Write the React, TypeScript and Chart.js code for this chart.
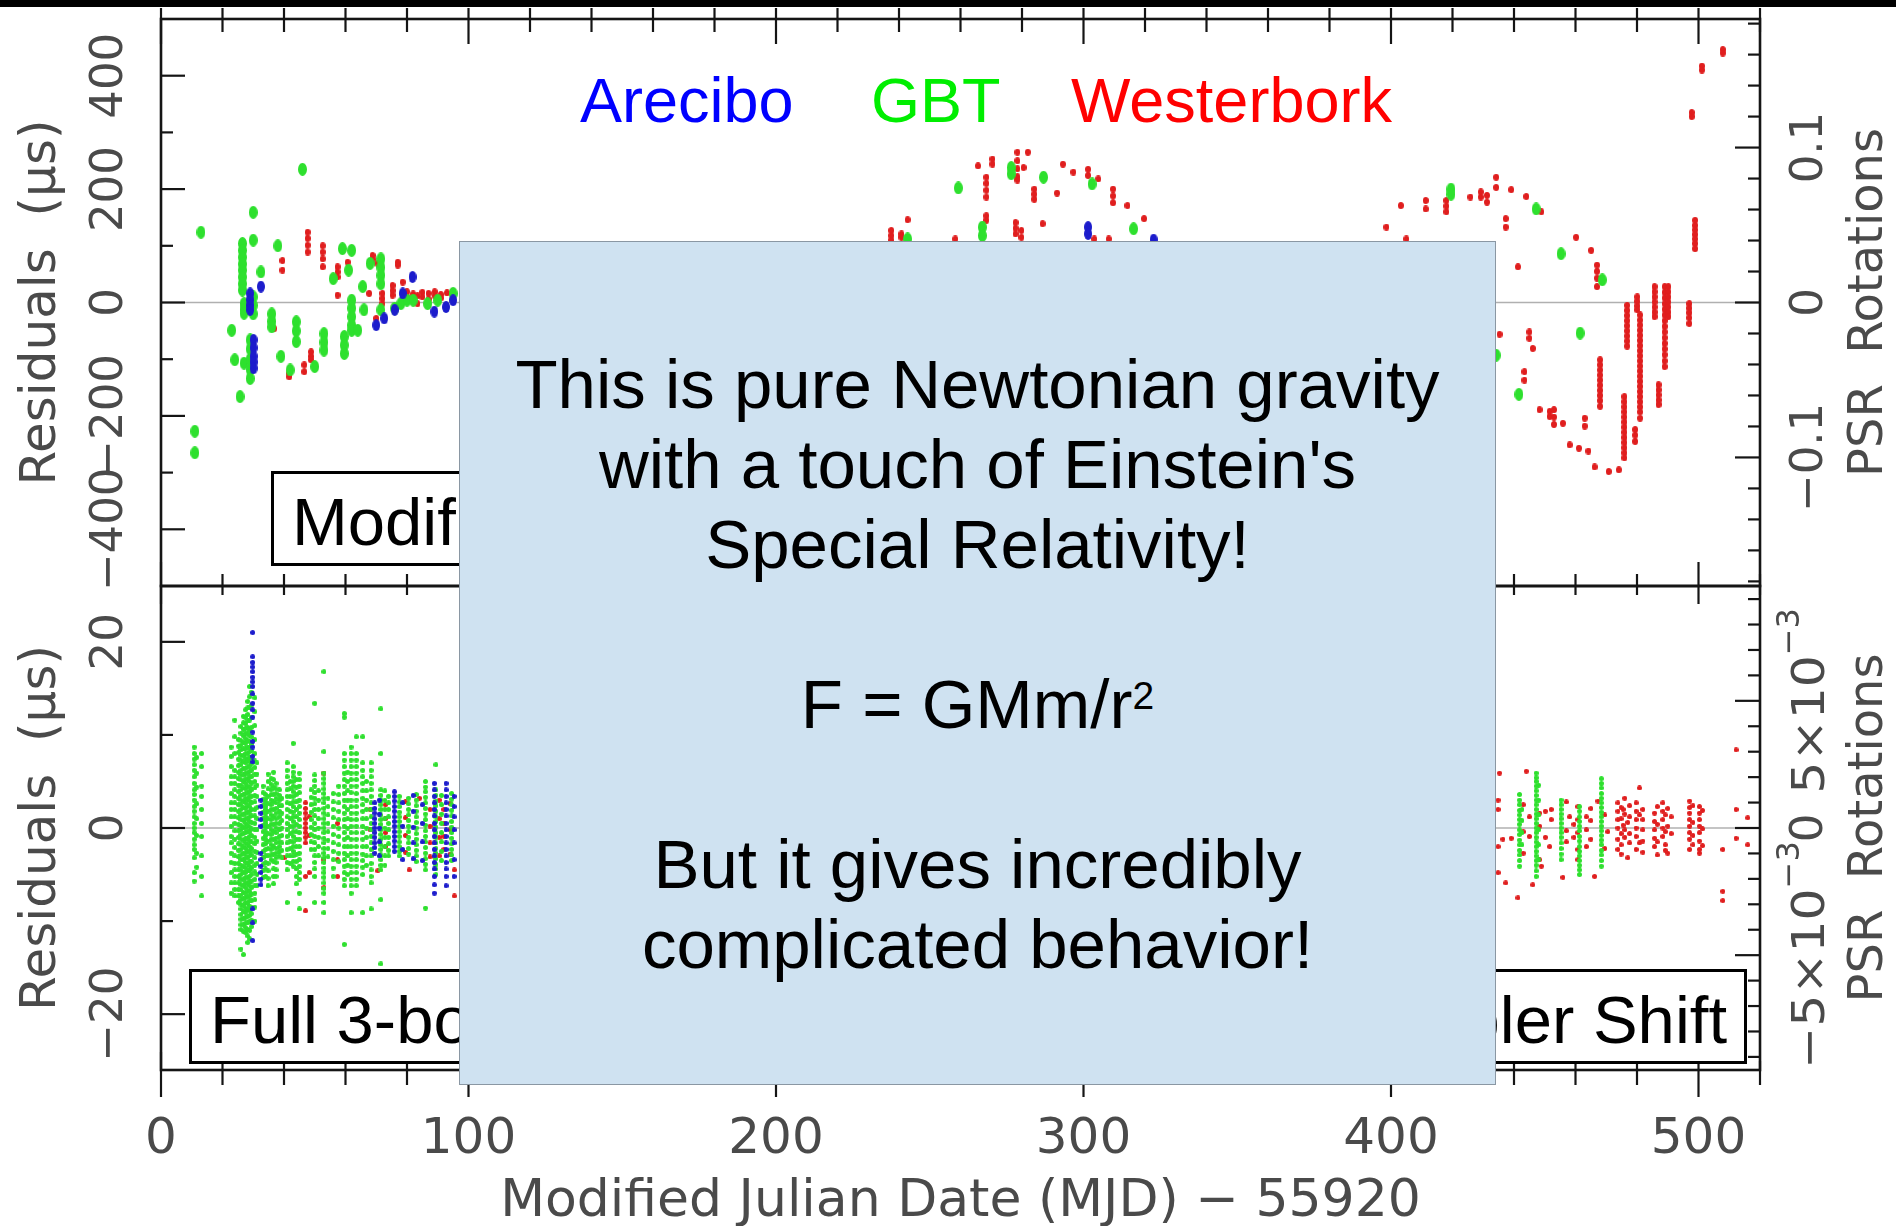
import React, { useEffect, useRef } from 'react';
import { Chart, registerables } from 'chart.js';

Chart.register(...registerables);

// A stripe is one observing day: [day offset, residuals measured that day]
type Stripe = [number, number[]];

// Pulsar spin period in microseconds (converts residuals to rotations)
const PERIOD_US = 2732.6;

// ---- axes -------------------------------------------------------------
const X_TICKS = [0, 20, 40, 60, 80, 100, 120, 140, 160, 180, 200, 220, 240, 260, 280, 300, 320, 340, 360, 380, 400, 420, 440, 460, 480, 500, 520];
const X_LABELS = [0, 100, 200, 300, 400, 500];
const X_TITLE = 'Modified Julian Date (MJD) \u2212 55920';
const Y_TITLE = 'Residuals  (\u00b5s)';
const Y2_TITLE = 'PSR  Rotations';

const TOP_RES_TICKS = [-400, -300, -200, -100, 0, 100, 200, 300, 400];
const TOP_RES_LABELS = [400, 200, 0, -200, -400];
const TOP_ROT_TICKS = [-0.18, -0.16, -0.14, -0.12, -0.1, -0.08, -0.06, -0.04, -0.02, 0, 0.02, 0.04, 0.06, 0.08, 0.1, 0.12, 0.14, 0.16, 0.18];
const TOP_ROT_LABELS: [number, string, string][] = [[0.1, '0.1', ''], [0, '0', ''], [-0.1, '\u22120.1', '']];

const BOT_RES_TICKS = [-20, -10, 0, 10, 20];
const BOT_RES_LABELS = [20, 0, -20];
const BOT_ROT_TICKS = [-0.009, -0.008, -0.007, -0.006, -0.005, -0.004, -0.003, -0.002, -0.001, 0, 0.001, 0.002, 0.003, 0.004, 0.005, 0.006, 0.007, 0.008, 0.009];
const BOT_ROT_LABELS: [number, string, string][] = [[0.005, '5\u00d710', '\u22123'], [0, '0', ''], [-0.005, '\u22125\u00d710', '\u22123']];

// ---- observatories ----------------------------------------------------
const OBSERVATORIES = ['Arecibo', 'GBT', 'Westerbork'];
const LEGEND_COLORS = ['#0000ff', '#00ee00', '#ff0000'];
const MARK_COLORS = ['#1c1ccc', '#2ee02e', '#e01e1e'];

// ---- upper panel: modified Keplerian fit residuals (µs) ---------------
const TOP_ARECIBO: Stripe[] = [
  [29, [16, 5, -5, -13]],
  [30.1, [-66, -80, -95, -105, -116]],
  [32.5, [28]],
  [70, [-40]],
  [72.6, [-28]],
  [76, [-13]],
  [78.6, [16]],
  [81.8, [45]],
  [88.9, [-16]],
  [92.7, [-8]],
  [95, [4]],
  [301.5, [133, 121]],
  [322.8, [111]],
];

const TOP_GBT: Stripe[] = [
  [11, [-227, -265]],
  [13, [124]],
  [23, [-49]],
  [24, [-101]],
  [25.7, [-166]],
  [26.5, [104, 92, 80, 68, 57, 45, 33, 22]],
  [27, [-107, -2, -12, -19]],
  [29, [-66, -82, -100, -118, -134]],
  [30, [159, 110, 10, -5, -20]],
  [32.5, [54]],
  [36, [-20, -33, -43]],
  [38, [100]],
  [39, [-95]],
  [42, [-119]],
  [44, [-34, -50, -69]],
  [46, [235]],
  [50, [-113]],
  [53, [-55, -70, -84]],
  [56, [42]],
  [59, [95]],
  [59.6, [-60, -75, -90]],
  [61, [57]],
  [62, [92, 4, -10, -25, -40, -49]],
  [64, [-49]],
  [65.6, [28]],
  [66, [-13]],
  [68, [69]],
  [71.5, [77, 62, 48, 33, -13]],
  [76, [-10]],
  [78, [-2]],
  [80, [4]],
  [82, [4]],
  [86.7, [-2]],
  [90, [4]],
  [95, [16]],
  [242.8, [112]],
  [259.3, [202]],
  [267.1, [133, 118]],
  [276.5, [238, 227]],
  [287, [221]],
  [302.8, [209]],
  [316.3, [130]],
  [419.5, [200, 191]],
  [434.2, [-93]],
  [441.6, [-162]],
  [447.2, [165]],
  [455.3, [86]],
  [461.5, [-54]],
  [468.7, [40]],
];

const TOP_WESTERBORK: Stripe[] = [
  [36.8, [-46]],
  [39.5, [74, 57]],
  [41.7, [-131, -125]],
  [46.6, [-110, -122]],
  [47.7, [124, 113, 101, 89]],
  [48.8, [-87, -95, -101]],
  [52.6, [100, 89, 77, 63]],
  [57.4, [63, 54, 45, 13]],
  [60.7, [71]],
  [67.7, [16]],
  [68.8, [83, 76]],
  [70, [-28]],
  [70.4, [69]],
  [72, [16, 7, -2]],
  [75.3, [30, 21, 13]],
  [77, [71, 66]],
  [78.6, [36]],
  [80, [19, 10]],
  [82, [15, 8]],
  [83.4, [12, -2]],
  [85, [18, 10]],
  [87, [16, 6]],
  [89, [19, 12]],
  [91, [14, 8]],
  [93, [17]],
  [95, [19, 11]],
  [237.5, [127, 118, 110]],
  [240.8, [121, 115]],
  [242.8, [146]],
  [258.3, [112]],
  [265.7, [241]],
  [268.4, [221, 210, 198, 186, 153, 145]],
  [270.4, [253, 244]],
  [277.9, [141, 131, 121]],
  [278.5, [265, 250, 236, 222, 216]],
  [279.8, [127, 115]],
  [280.5, [238]],
  [281.9, [265]],
  [284, [200, 191, 182]],
  [286.7, [139]],
  [291.4, [193]],
  [293.3, [244]],
  [296.7, [230]],
  [301.5, [235, 224]],
  [303.5, [112]],
  [304.8, [218]],
  [308.2, [112]],
  [309.6, [200, 188, 176]],
  [314.3, [171]],
  [319.7, [148]],
  [398.5, [133]],
  [403.2, [171]],
  [405, [112]],
  [411.3, [180, 165]],
  [418, [180, 170, 160]],
  [425.8, [186]],
  [429.2, [195, 186]],
  [431.2, [189, 177]],
  [434.2, [221, 203]],
  [435.3, [-56]],
  [437.3, [148, 133]],
  [439.1, [199]],
  [441.3, [63]],
  [443.4, [-122, -137]],
  [444, [187]],
  [445, [-52, -63]],
  [446.1, [-81]],
  [448.3, [-189]],
  [448.9, [160]],
  [451.6, [-192, -201]],
  [453, [-189, -202, -215]],
  [455.9, [-213]],
  [458.1, [-251]],
  [460.2, [115]],
  [461.1, [-257]],
  [463, [-204, -218]],
  [464.2, [-262]],
  [465.1, [92]],
  [466.2, [-290]],
  [467, [66, 55, 43, 28]],
  [468, [-101, -110, -119, -128, -137, -146, -155, -164, -173, -183]],
  [470.8, [-298]],
  [474.1, [-295]],
  [475.9, [-166, -175, -184, -193, -202, -211, -220, -229, -238, -247, -256, -265, -274]],
  [476.8, [-5, -14, -23, -32, -41, -50, -59, -68, -77]],
  [479.4, [-224, -234, -245]],
  [480.1, [10, 2, -6, -13]],
  [481, [-22, -31, -40, -49, -58, -67, -76, -85, -94, -103, -112, -121, -130, -139, -148, -157, -166, -175, -184, -193, -204]],
  [485.7, [28, 19, 10, 1, -8, -17, -25]],
  [487, [-145, -154, -163, -172, -180]],
  [489, [28, 18, 8, -2, -12, -22, -32, -42, -52, -62, -72, -82, -92, -103, -113]],
  [490.2, [28, 19, 10, 1, -8, -17, -25]],
  [497, [-2, -10, -18, -27, -37]],
  [497.8, [335, 328]],
  [498.9, [145, 136, 128, 120, 112, 104, 95]],
  [501.1, [417, 410]],
  [507.9, [446, 440]],
];

// ---- lower panel: full three-body fit residuals (µs) ------------------
const BOT_ARECIBO: Stripe[] = [
  [29.8, [21.0, 18.4, 17.8, 17.3, 16.8, 16.2, 15.7, 15.2, 14.4, 13.4, 12.7, 11.9, 10.3, 9.3, 8.7, 7.7, 7.1, -8.7, -10.2, -12.1]],
  [32.5, [3.0, 2.3, 1.6, 0.9, 0.2, -2.7, -3.4, -4.1, -4.8, -5.5, -6.1]],
  [69.5, [2.7, 2.1, 1.6, 1.0, 0.5, 0, -0.5, -1.0, -1.6, -2.1, -2.7]],
  [71, [3.0, 1.5, 0, -1.5, -3.0]],
  [75.9, [3.9, 3.4, 2.9, 2.3, 1.8, 1.2, 0.7, 0.2, -0.4, -0.9, -1.4, -2.0, -2.5]],
  [78.6, [2.7, 0.2, -2.3, -3.4]],
  [82, [3.5, 1.8, 0.1, -1.6, -3.3]],
  [85, [2.5, 0.5, -1.5, -3.5]],
  [88.9, [4.8, 4.1, 3.4, 2.7, 2.0, 1.3, 0.5, -0.2, -0.9, -1.6, -2.3, -3.0, -3.7, -4.4, -5.2, -6.1, -7.0]],
  [92.7, [4.8, 4.1, 3.4, 2.7, 2.0, 1.3, 0.5, -0.2, -0.9, -1.6, -2.3, -3.0, -3.7, -4.4, -5.2, -6.2]],
  [95.3, [3.4, 2.3, 1.2, -0.2, -1.6, -3.4, -5.2]],
];

const BOT_GBT: Stripe[] = [
  [10.8, [8.7, 8.0, 7.4, 6.8, 6.2, 5.5, 4.8, 4.1, 3.6, 3.0, 2.3, 1.8, 1.2, 0.5, 0, -0.5, -1.2, -1.8, -2.3, -3.2, -4.8, -5.7]],
  [11.6, [7.6, 5.9, 4.4, 2.6, 1.0, -0.8, -2.7, -4.2]],
  [13.2, [8.0, 6.6, 4.5, 3.4, 2.0, 0.5, -0.9, -3.0, -5.2, -7.3]],
  [22.8, [8.7, 7.7, 6.6, 5.5, 4.8, 3.7, 2.7, 2.0, 1.2, 0.2, -0.9, -1.6, -2.7, -3.7, -4.8, -5.9, -7.0]],
  [24, [11.6, 9.8, 8.0, 6.2, 5.5, 4.8, 4.1, 3.4, 2.7, 2.0, 1.2, 0.5, -0.3, -1.2, -2.1, -3.0, -3.8, -4.5, -5.2, -5.9, -6.6, -7.3]],
  [25.2, [9.5, 8.8, 8.1, 7.4, 6.7, 6.0, 5.3, 4.6, 3.9, 3.2, 2.5, 1.8, 1.1, 0.4, -0.3, -1.0, -1.7, -2.4, -3.1, -3.8, -4.5, -5.2, -5.9, -6.6, -7.3, -8.0]],
  [26, [10.9, 10.2, 9.4, 8.9, 8.4, 7.8, 7.3, 6.8, 6.2, 5.7, 5.2, 4.6, 4.1, 3.5, 3.0, 2.5, 2.0, 1.4, 0.9, 0.3, -0.2, -0.7, -1.2, -1.8, -2.3, -2.9, -3.4, -4.0, -4.5, -5.0, -5.5, -6.1, -6.6, -7.2, -7.7, -8.2, -8.7, -9.3, -9.8, -10.4, -10.9, -13.0]],
  [26.8, [12.0, 11.3, 10.6, 9.9, 9.2, 8.5, 7.8, 7.1, 6.4, 5.7, 5.0, 4.3, 3.6, 2.9, 2.2, 1.5, 0.8, 0.1, -0.6, -1.3, -2.0, -2.7, -3.4, -4.1, -4.8, -5.5, -6.2, -6.9, -7.6, -8.3, -9.0, -9.7, -10.4, -11.1, -13.6]],
  [27.5, [12.7, 11.9, 11.2, 10.7, 10.2, 9.6, 9.1, 8.5, 8.0, 7.5, 7.0, 6.4, 5.9, 5.3, 4.8, 4.2, 3.7, 3.2, 2.7, 2.1, 1.6, 1.0, 0.5, 0, -0.5, -1.1, -1.6, -2.2, -2.7, -3.2, -3.7, -4.3, -4.8, -5.3, -5.9, -6.4, -7.0, -7.5, -8.0, -8.6, -9.1, -9.6, -10.2, -10.7, -11.2]],
  [28.2, [13.6, 12.9, 12.2, 11.5, 10.8, 10.1, 9.4, 8.7, 8.0, 7.3, 6.6, 5.9, 5.2, 4.5, 3.8, 3.1, 2.4, 1.7, 1.0, 0.3, -0.4, -1.1, -1.8, -2.5, -3.2, -3.9, -4.6, -5.3, -6.0, -6.7, -7.4, -8.1, -8.8, -9.5, -10.2, -10.9, -11.6, -12.3]],
  [28.8, [15.2, 14.1, 13.0, 11.6, 10.5, 9.9, 9.3, 8.7, 8.2, 7.6, 7.1, 6.6, 6.1, 5.5, 5.0, 4.4, 3.9, 3.4, 2.9, 2.3, 1.8, 1.2, 0.7, 0.1, -0.4, -0.9, -1.4, -2.0, -2.5, -3.0, -3.6, -4.1, -4.6, -5.2, -5.7, -6.2, -6.8, -7.3, -7.8, -8.4, -8.9, -9.4, -10.0, -11.0, -11.9]],
  [29.4, [14.6, 13.2, 11.9, 10.8, 9.8, 9.0, 8.3, 7.6, 6.9, 6.2, 5.5, 4.8, 4.1, 3.4, 2.7, 2.0, 1.3, 0.6, -0.1, -0.8, -1.5, -2.2, -2.9, -3.6, -4.3, -5.0, -5.7, -6.4, -7.1, -7.8, -8.5, -9.2, -9.9, -10.6]],
  [30.5, [14.0, 12.5, 11.0, 9.5, 8.0, 7.2, 6.5, 5.8, 5.0, 4.3, 3.5, 2.8, 2.0, 1.3, 0.5, -0.2, -1.0, -1.7, -2.5, -3.2, -4.0, -4.7, -5.5, -6.2, -7.0, -7.7, -8.5, -10.0]],
  [31.2, [7.0, 5.8, 4.6, 3.4, 2.2, 1.0, -0.2, -1.4, -2.6, -3.8, -5.0, -6.2]],
  [33.2, [4.5, 3.8, 3.1, 2.4, 1.7, 1.0, 0.3, -0.4, -1.1, -1.8, -2.5, -3.2, -3.9, -4.6, -5.3]],
  [34, [3.6, 3.1, 2.7, 2.3, 2.0, 1.6, 1.2, 0.8, 0.5, 0.1, -0.4, -0.8, -1.2, -1.7, -2.3, -3.0, -3.7, -4.4, -5.2]],
  [34.8, [5.8, 5.0, 4.2, 3.4, 2.6, 1.8, 1.0, 0.2, -0.6, -1.4, -2.2, -3.0, -3.8, -4.6, -5.4, -6.2]],
  [35.8, [5.3, 4.7, 4.1, 3.6, 3.0, 2.5, 2.0, 1.4, 0.9, 0.4, -0.2, -0.7, -1.2, -1.8, -2.3, -2.9, -3.4]],
  [36.6, [6.0, 5.2, 4.4, 3.6, 2.8, 2.0, 1.2, 0.4, -0.4, -1.2, -2.0, -2.8, -3.6, -4.4, -5.2, -6.0]],
  [37.4, [4.8, 4.2, 3.7, 3.2, 2.7, 2.1, 1.6, 1.0, 0.5, 0, -0.5, -1.1, -1.6, -2.2, -2.7, -3.2, -3.7, -4.5, -5.2]],
  [38.5, [4.1, 3.5, 3.0, 2.4, 1.8, 1.2, 0.5, -0.2, -0.9, -1.5, -2.0, -2.5, -3.0]],
  [39.3, [3.2, 2.4, 1.6, 0.8, 0, -0.8, -1.6, -2.4, -3.2]],
  [41, [7.0, 6.2, 5.5, 4.8, 4.1, 3.4, 2.7, 2.0, 1.2, 0.5, -0.2, -0.9, -1.6, -2.3, -3.0, -3.7, -4.5, -8.0]],
  [42, [5.0, 4.2, 3.4, 2.6, 1.8, 1.0, 0.2, -0.6, -1.4, -2.2, -3.0, -3.8]],
  [43, [9.1, 6.6, 6.0, 5.5, 5.0, 4.5, 3.9, 3.4, 2.8, 2.3, 1.7, 1.2, 0.7, 0.2, -0.4, -0.9, -1.5, -2.0, -2.5, -3.0, -3.6, -4.1]],
  [44, [5.2, 4.4, 3.6, 2.8, 2.0, 1.2, 0.4, -0.4, -1.2, -2.0, -2.8, -3.6, -4.4, -5.2, -6.0]],
  [45, [5.9, 5.2, 4.5, 3.8, 3.0, 2.3, 1.6, 0.9, 0.2, -0.5, -1.2, -2.0, -2.7, -3.4, -4.1, -4.8, -5.5, -7.0, -8.7]],
  [48.8, [4.1, 3.3, 2.5, 1.7, 0.9, 0.1, -0.7, -1.5, -2.3]],
  [50, [13.4, 5.7, 5.1, 4.5, 3.8, 3.2, 2.6, 2.0, 1.3, 0.5, -0.2, -0.9, -1.6, -2.3, -3.0, -3.7, -4.4, -5.2, -8.0]],
  [51.2, [4.0, 3.0, 2.0, 1.0, 0, -1.0, -2.0, -3.0]],
  [53, [16.8, 8.2, 5.9, 5.3, 4.8, 4.2, 3.7, 3.2, 2.7, 2.1, 1.6, 1.0, 0.5, 0, -0.5, -1.1, -1.6, -2.2, -2.7, -3.2, -3.7, -4.3, -4.8, -5.3, -5.9, -6.5, -7.0, -8.0, -9.1]],
  [54.3, [3.2, 2.3, 1.4, 0.5, -0.4, -1.3, -2.2, -3.1]],
  [56, [3.7, 2.8, 2.0, 1.1, 0.2, -0.7, -1.6, -2.5, -3.4, -4.3, -5.2]],
  [57.8, [4.5, 3.6, 2.7, 1.8, 0.9, 0, -0.9, -1.8, -2.7, -3.6]],
  [59.6, [12.3, 11.9, 8.0, 7.3, 6.6, 5.9, 5.2, 4.5, 3.7, 3.0, 2.3, 1.6, 0.9, 0.2, -0.5, -1.2, -2.0, -2.7, -3.4, -4.1, -4.8, -5.5, -6.2, -12.5]],
  [60.7, [6.0, 5.0, 4.0, 3.0, 2.0, 1.0, 0, -1.0, -2.0, -3.0, -4.0, -5.0]],
  [61.8, [8.7, 8.0, 7.3, 6.6, 5.9, 5.2, 4.5, 3.8, 3.0, 2.3, 1.6, 0.9, 0.2, -0.5, -1.2, -2.0, -2.7, -3.4, -4.1, -4.8, -5.5, -6.2, -7.0, -9.1]],
  [63.5, [9.8, 8.0, 7.3, 6.6, 5.9, 5.2, 4.5, 3.7, 3.0, 2.3, 1.6, 0.9, 0.2, -0.5, -1.2, -2.0, -2.7, -3.4, -4.1, -4.8, -5.5, -6.2]],
  [65.6, [9.8, 7.0, 6.2, 5.5, 4.8, 4.0, 3.2, 2.5, 1.8, 1.0, 0.2, -0.5, -1.2, -2.0, -2.8, -3.5, -4.2, -5.0, -9.1]],
  [66.8, [5.0, 4.0, 3.0, 2.0, 1.0, 0, -1.0, -2.0, -3.0, -4.0]],
  [68.3, [7.0, 6.2, 5.5, 4.8, 4.1, 3.4, 2.7, 2.0, 1.2, 0.5, -0.2, -0.9, -1.6, -2.3, -3.0, -3.8, -4.5, -5.2, -5.9, -8.7]],
  [71.5, [12.8, 8.0, 4.1, 3.5, 3.0, 2.5, 2.0, 1.4, 0.9, 0.4, -0.2, -0.7, -1.2, -1.8, -2.3, -2.9, -3.4, -4.0, -4.5, -7.7, -14.6]],
  [72.8, [4.0, 3.0, 2.0, 1.0, 0, -1.0, -2.0, -3.0, -4.0]],
  [74, [3.4, 2.7, 2.0, 1.2, 0.5, -0.2, -1.0, -1.7, -2.4, -3.0]],
  [77.5, [3.4, 2.8, 2.3, 1.7, 1.2, 0.7, 0.2, -0.4, -0.9, -1.5, -2.0, -2.5, -3.0]],
  [80.5, [3.2, 2.6, 2.0, 1.4, 0.8, 0.2, -0.4, -1.0, -1.6, -2.2, -2.8]],
  [83, [3.6, 3.0, 2.4, 1.8, 1.2, 0.6, 0, -0.6, -1.2, -1.8, -2.4, -3.0, -3.6]],
  [86, [5.0, 4.4, 3.9, 3.3, 2.7, 2.1, 1.5, 0.9, 0.3, -0.3, -0.9, -1.5, -2.1, -2.7, -3.3, -3.9, -4.5, -8.6]],
  [89.4, [6.8, 4.1, 3.5, 2.9, 2.4, 1.8, 1.2, 0.7, 0.1, -0.5, -1.0, -1.6, -2.2, -2.7, -3.3, -3.9, -4.4, -5.0]],
  [91.2, [3.5, 2.5, 1.5, 0.5, -0.5, -1.5, -2.5, -3.5]],
  [94.5, [3.7, 3.1, 2.5, 1.9, 1.3, 0.7, 0.1, -0.5, -1.1, -1.7, -2.3, -2.9, -3.5]],
  [441.8, [3.6, 3.0, 2.5, 1.9, 1.4, 0.9, 0.4, -0.2, -0.7, -1.3, -1.8, -2.4, -2.9, -3.5, -4.1]],
  [442.6, [2.0, 0.8, -0.5, -1.8]],
  [447.2, [5.9, 5.4, 5.0, 4.5, 4.0, 3.5, 3.0, 2.5, 2.0, 1.5, 1.0, 0.5, 0, -0.5, -1.0, -1.5, -2.0, -2.5, -3.0, -3.5, -4.0, -4.6, -5.2]],
  [448, [4.6, 3.0, 1.4, -0.2, -1.8, -3.4]],
  [455.3, [3.0, 2.5, 2.0, 1.5, 1.0, 0.5, 0, -0.5, -1.0, -1.6, -2.2, -2.8, -3.4]],
  [461.3, [2.3, 1.8, 1.2, 0.7, 0.2, -0.3, -0.9, -1.4, -2.0, -2.5, -3.0, -3.5, -4.0, -4.5, -5.0]],
  [468.4, [5.3, 4.8, 4.3, 3.7, 3.2, 2.7, 2.2, 1.7, 1.2, 0.7, 0.2, -0.3, -0.8, -1.3, -1.8, -2.4, -2.9, -3.5, -4.1]],
];

const BOT_WESTERBORK: Stripe[] = [
  [40, [-3.2]],
  [47, [2.7, 2.1, 1.6, 1.0, 0.5, 0, -0.5, -1.0, -1.6, -5.2, -8.9]],
  [48.2, [-4.8, 1.2, -0.8]],
  [53, [5.9, -3.4, -6.4]],
  [57.4, [0.5, -3.4, -5.2]],
  [68, [2.0, -0.2]],
  [70.5, [-4.6]],
  [73, [2.5, 1.0, -0.5, -2.0]],
  [79.5, [2.8, 1.1, -0.8, -2.6]],
  [80.7, [-4.5]],
  [84, [3.2]],
  [87.5, [2.0, 0.2, -1.6, -3.1]],
  [90.5, [3.0, 1.0, -1.0, -3.0]],
  [92, [2.0, 0.5, -0.9, -2.3]],
  [94, [2.6, -0.2, -2.8]],
  [95.4, [-4.5, -7.3]],
  [434.8, [3.0, 2.0, -2.0, -4.8]],
  [435.3, [5.9]],
  [436.4, [-1.2]],
  [437.3, [-5.9]],
  [439.1, [-1.1]],
  [441.3, [-7.5]],
  [443, [2.5, -0.4, -2.7]],
  [444, [6.1]],
  [445, [1.2, -0.9]],
  [446.1, [-6.1]],
  [448.3, [1.6, 0.2, -3.4]],
  [448.9, [-4.1]],
  [450.2, [1.8, -1.0]],
  [451.6, [-2.0]],
  [452.1, [2.0, 0.9]],
  [455.9, [-5.3]],
  [457, [2.8, -0.3, -1.5]],
  [458.1, [1.2]],
  [459.5, [0.4, -1.0]],
  [460.8, [2.3, 0.9, -0.5, -2.3, -3.4]],
  [463.5, [1.2, -0.2, -2.0]],
  [465, [2.1, 0.8, -1.2]],
  [466.2, [-5.2]],
  [467.3, [2.9]],
  [469.5, [1.4, -2.2]],
  [470.5, [-0.4]],
  [473.8, [2.7, 1.8, 0.9, 0, -1.2, -2.3]],
  [474.8, [2.2, 1.0, -0.6, -1.8, -2.8]],
  [475.5, [2.0, 0.3]],
  [476, [3.2, 1.5, -0.2, -1.0]],
  [477, [0.6, -3.2]],
  [477.6, [2.4, 1.2, -0.6, -1.6]],
  [479.7, [2.7, 1.8, 0.9, 0, -0.9, -2.3]],
  [480.8, [4.3, 1.4, -1.6]],
  [481.9, [2.0, 0.9, -0.2, -1.4, -2.6]],
  [485.7, [1.6, 0.7, -0.2, -1.1, -2.0]],
  [486.6, [2.3, 0.4, -1.5, -2.9]],
  [488.4, [2.7, 1.8, 0.9, 0, -0.9]],
  [489.2, [1.4, -0.4, -1.8, -2.4]],
  [490, [2.1, 0.2, -2.7]],
  [491.1, [1.2, -0.6]],
  [497.1, [2.9, 2.2, 1.6, 0.9, 0.2, -0.5, -1.2, -2.3]],
  [498.2, [2.4, 0.6, -0.8, -1.8]],
  [500.3, [2.3, 1.6, 0.9, 0.2, -0.5, -1.4, -2.3, -2.7]],
  [501.3, [1.9, -0.1, -1.9]],
  [507.9, [-2.3, -6.8, -7.8]],
  [512.2, [8.4, 2.0, -1.1]],
  [516, [1.1, -1.8]],
];

// ---- text ---------------------------------------------------------------
const NOTE_LINES = ['This is pure Newtonian gravity', "with a touch of Einstein's", 'Special Relativity!', '', 'F = GMm/r', '', 'But it gives incredibly', 'complicated behavior!'];
const FORMULA_LINE = 4;
const UPPER_TAG = 'Modified Keplerian';
const LOWER_TAG_START = 'Full 3-body Newtonian';
const LOWER_TAG_END = '+ Doppler Shift';

// ---- layout -------------------------------------------------------------
const W = 1896;
const H = 1226;
const PLOT_LEFT = 161;
const PLOT_RIGHT = 1760;
const TOP_CANVAS = { top: 0, height: 600 };
const BOT_CANVAS = { top: 572, height: 654 };
const AXIS_INK = '#4a4a4a';
const AXIS_FONT = '"DejaVu Sans", "Liberation Sans", sans-serif';
const SLIDE_FONT = '"Liberation Sans", Arial, Helvetica, sans-serif';

type Edge = { out: [number, number]; inn: [number, number] };

interface PanelSpec {
  resMax: number;
  resTicks: number[];
  resMajor: number;
  resLabels: number[];
  rotTicks: number[];
  rotMajor: number;
  rotLabels: [number, string, string][];
  series: Stripe[][];
  markers: [number, number][];
  padding: { left: number; right: number; top: number; bottom: number };
  topEdge: Edge;
  bottomEdge: Edge;
  xLabels: boolean;
}

const isMajor = (v: number, step: number) => Math.abs(v / step - Math.round(v / step)) < 1e-6;
const fmt = (v: number) => (v < 0 ? '\u2212' + String(Math.abs(v)) : String(v));

function expand(stripes: Stripe[]) {
  const pts: { x: number; y: number }[] = [];
  for (const [day, values] of stripes) for (const y of values) pts.push({ x: day, y });
  return pts;
}

function makeMarker(w: number, h: number, color: string) {
  const c = document.createElement('canvas');
  c.width = w;
  c.height = h;
  const g = c.getContext('2d')!;
  g.fillStyle = color;
  g.beginPath();
  g.ellipse(w / 2, h / 2, w / 2, h / 2, 0, 0, Math.PI * 2);
  g.fill();
  return c;
}

function rotText(ctx: CanvasRenderingContext2D, text: string, x: number, y: number, px: number) {
  ctx.save();
  ctx.translate(x, y);
  ctx.rotate(-Math.PI / 2);
  ctx.font = `${px}px ${AXIS_FONT}`;
  ctx.fillStyle = AXIS_INK;
  ctx.textAlign = 'center';
  ctx.textBaseline = 'alphabetic';
  ctx.fillText(text, 0, 0);
  ctx.restore();
}

function rotPower(ctx: CanvasRenderingContext2D, mant: string, exp: string, x: number, y: number) {
  ctx.save();
  ctx.translate(x, y);
  ctx.rotate(-Math.PI / 2);
  ctx.fillStyle = AXIS_INK;
  ctx.textBaseline = 'alphabetic';
  ctx.textAlign = 'left';
  ctx.font = `45px ${AXIS_FONT}`;
  const wm = ctx.measureText(mant).width * 1.12;
  ctx.font = `32px ${AXIS_FONT}`;
  const we = ctx.measureText(exp).width;
  const start = -(wm + we) / 2;
  ctx.save();
  ctx.translate(start, 0);
  ctx.scale(1.12, 1);
  ctx.font = `45px ${AXIS_FONT}`;
  ctx.fillText(mant, 0, 0);
  ctx.restore();
  ctx.font = `32px ${AXIS_FONT}`;
  ctx.fillText(exp, start + wm, -25);
  ctx.restore();
}

function panelAxes(spec: PanelSpec) {
  return {
    id: 'panelAxes',
    beforeDatasetsDraw(chart: any) {
      const { ctx, chartArea: a } = chart;
      const y0 = chart.scales.y.getPixelForValue(0);
      ctx.save();
      ctx.strokeStyle = '#b0b0b0';
      ctx.lineWidth = 1.5;
      ctx.beginPath();
      ctx.moveTo(a.left, y0);
      ctx.lineTo(a.right, y0);
      ctx.stroke();
      ctx.restore();
    },
    afterDatasetsDraw(chart: any) {
      const { ctx, chartArea: a, scales } = chart;
      const sx = scales.x;
      const sy = scales.y;
      const sr = scales.rot;
      const seg = (x1: number, y1: number, x2: number, y2: number) => {
        ctx.beginPath();
        ctx.moveTo(x1, y1);
        ctx.lineTo(x2, y2);
        ctx.stroke();
      };
      ctx.save();
      ctx.strokeStyle = '#151515';
      ctx.lineWidth = 2.2;
      for (const v of spec.resTicks) {
        const py = sy.getPixelForValue(v);
        seg(a.left, py, a.left + (isMajor(v, spec.resMajor) ? 24 : 12), py);
      }
      for (const v of spec.rotTicks) {
        const py = sr.getPixelForValue(v);
        seg(a.right - (isMajor(v, spec.rotMajor) ? 25 : 12), py, a.right, py);
      }
      for (const v of X_TICKS) {
        const px = sx.getPixelForValue(v);
        const k = isMajor(v, 100) ? 1 : 0;
        seg(px, a.top - spec.topEdge.out[k], px, a.top + spec.topEdge.inn[k]);
        seg(px, a.bottom - spec.bottomEdge.inn[k], px, a.bottom + spec.bottomEdge.out[k]);
      }
      ctx.lineWidth = 2.6;
      ctx.strokeRect(a.left, a.top, a.right - a.left, a.bottom - a.top);

      const midY = (a.top + a.bottom) / 2;
      for (const v of spec.resLabels) rotText(ctx, fmt(v), a.left - 39, sy.getPixelForValue(v), 45);
      for (const [v, mant, exp] of spec.rotLabels) {
        const py = sr.getPixelForValue(v);
        if (exp) rotPower(ctx, mant, exp, a.right + 64, py);
        else rotText(ctx, mant, a.right + 62, py, 45);
      }
      rotText(ctx, Y_TITLE, a.left - 106, midY, 50);
      rotText(ctx, Y2_TITLE, a.right + 122, midY, 48);

      if (spec.xLabels) {
        ctx.fillStyle = AXIS_INK;
        ctx.textAlign = 'center';
        ctx.textBaseline = 'alphabetic';
        ctx.font = `50px ${AXIS_FONT}`;
        for (const v of X_LABELS) ctx.fillText(String(v), sx.getPixelForValue(v), a.bottom + 83);
        ctx.font = `52px ${AXIS_FONT}`;
        ctx.fillText(X_TITLE, (a.left + a.right) / 2, a.bottom + 146);
      }
      ctx.restore();
    },
  };
}

function makePanel(canvas: HTMLCanvasElement, spec: PanelSpec) {
  const datasets = spec.series.map((stripes, i) => ({
    label: OBSERVATORIES[i],
    data: expand(stripes),
    pointStyle: makeMarker(spec.markers[i][0], spec.markers[i][1], MARK_COLORS[i]),
    pointRadius: 3,
    borderWidth: 0,
    backgroundColor: MARK_COLORS[i],
  }));
  return new Chart(canvas, {
    type: 'scatter',
    data: { datasets },
    options: {
      animation: false,
      responsive: false,
      maintainAspectRatio: false,
      devicePixelRatio: 1,
      events: [],
      layout: { padding: spec.padding },
      scales: {
        x: { type: 'linear', min: 0, max: 520, display: false },
        y: { type: 'linear', min: -spec.resMax, max: spec.resMax, display: false },
        rot: { type: 'linear', position: 'right', min: -spec.resMax / PERIOD_US, max: spec.resMax / PERIOD_US, display: false },
      },
      plugins: { legend: { display: false }, tooltip: { enabled: false } },
    } as any,
    plugins: [panelAxes(spec) as any],
  });
}

const TOP_SPEC: PanelSpec = {
  resMax: 500,
  resTicks: TOP_RES_TICKS,
  resMajor: 200,
  resLabels: TOP_RES_LABELS,
  rotTicks: TOP_ROT_TICKS,
  rotMajor: 0.1,
  rotLabels: TOP_ROT_LABELS,
  series: [TOP_ARECIBO, TOP_GBT, TOP_WESTERBORK],
  markers: [[8, 12], [9, 13], [6, 7]],
  padding: { left: PLOT_LEFT, right: W - PLOT_RIGHT, top: 19, bottom: TOP_CANVAS.height - 586 },
  topEdge: { out: [11, 11], inn: [13, 25] },
  bottomEdge: { out: [0, 0], inn: [12, 24] },
  xLabels: false,
};

const BOT_SPEC: PanelSpec = {
  resMax: 26,
  resTicks: BOT_RES_TICKS,
  resMajor: 20,
  resLabels: BOT_RES_LABELS,
  rotTicks: BOT_ROT_TICKS,
  rotMajor: 0.005,
  rotLabels: BOT_ROT_LABELS,
  series: [BOT_ARECIBO, BOT_GBT, BOT_WESTERBORK],
  markers: [[5, 5], [5, 5], [5, 5]],
  padding: { left: PLOT_LEFT, right: W - PLOT_RIGHT, top: 586 - BOT_CANVAS.top, bottom: BOT_CANVAS.height - (1070 - BOT_CANVAS.top) },
  topEdge: { out: [0, 0], inn: [9, 18] },
  bottomEdge: { out: [15, 27], inn: [9, 18] },
  xLabels: true,
};

// place a single line of slide text by its baseline
const lineTop = (baseline: number, size: number) => baseline - 0.8465 * size;

export default function App() {
  const topRef = useRef<HTMLCanvasElement>(null);
  const botRef = useRef<HTMLCanvasElement>(null);

  useEffect(() => {
    const charts = [makePanel(topRef.current!, TOP_SPEC), makePanel(botRef.current!, BOT_SPEC)];
    return () => charts.forEach((c) => c.destroy());
  }, []);

  const legendLeft = [580, 871, 1071];

  return (
    <div style={{ position: 'absolute', left: 0, top: 0, width: W, height: H, background: '#ffffff', overflow: 'hidden', fontFamily: SLIDE_FONT }}>
      <div style={{ position: 'absolute', left: 0, top: 0, width: W, height: 7, background: '#000' }} />
      <canvas ref={topRef} width={W} height={TOP_CANVAS.height} style={{ position: 'absolute', left: 0, top: TOP_CANVAS.top, width: W, height: TOP_CANVAS.height }} />
      <canvas ref={botRef} width={W} height={BOT_CANVAS.height} style={{ position: 'absolute', left: 0, top: BOT_CANVAS.top, width: W, height: BOT_CANVAS.height }} />

      {OBSERVATORIES.map((name, i) => (
        <div key={name} style={{ position: 'absolute', left: legendLeft[i], top: lineTop(122.5, 63), fontSize: 63, lineHeight: '63px', color: LEGEND_COLORS[i], whiteSpace: 'pre' }}>
          {name}
        </div>
      ))}

      <div style={{ position: 'absolute', left: 271, top: 471, width: 629, height: 95, border: '3px solid #000', background: '#fff', boxSizing: 'border-box' }} />
      <div style={{ position: 'absolute', left: 292, top: lineTop(545, 67), fontSize: 67, lineHeight: '67px', color: '#000', whiteSpace: 'pre' }}>{UPPER_TAG}</div>

      <div style={{ position: 'absolute', left: 189, top: 969, width: 1558, height: 95, border: '3px solid #000', background: '#fff', boxSizing: 'border-box' }} />
      <div style={{ position: 'absolute', left: 210, top: lineTop(1043, 67), fontSize: 67, lineHeight: '67px', color: '#000', whiteSpace: 'pre' }}>{LOWER_TAG_START}</div>
      <div style={{ position: 'absolute', right: W - 1727, top: lineTop(1043, 67), fontSize: 67, lineHeight: '67px', color: '#000', whiteSpace: 'pre', textAlign: 'right' }}>{LOWER_TAG_END}</div>

      <div style={{ position: 'absolute', left: 459, top: 241, width: 1037, height: 844, background: '#cfe2f1', border: '1px solid #8a97a3', boxSizing: 'border-box' }} />
      {NOTE_LINES.map((text, i) =>
        text ? (
          <div key={i} style={{ position: 'absolute', left: 459, width: 1037, top: lineTop(408 + 80 * i, 69), fontSize: 69, lineHeight: '69px', color: '#000', textAlign: 'center', whiteSpace: 'pre' }}>
            {text}
            {i === FORMULA_LINE ? <span style={{ fontSize: 39, position: 'relative', top: -19 }}>2</span> : null}
          </div>
        ) : null
      )}
    </div>
  );
}
